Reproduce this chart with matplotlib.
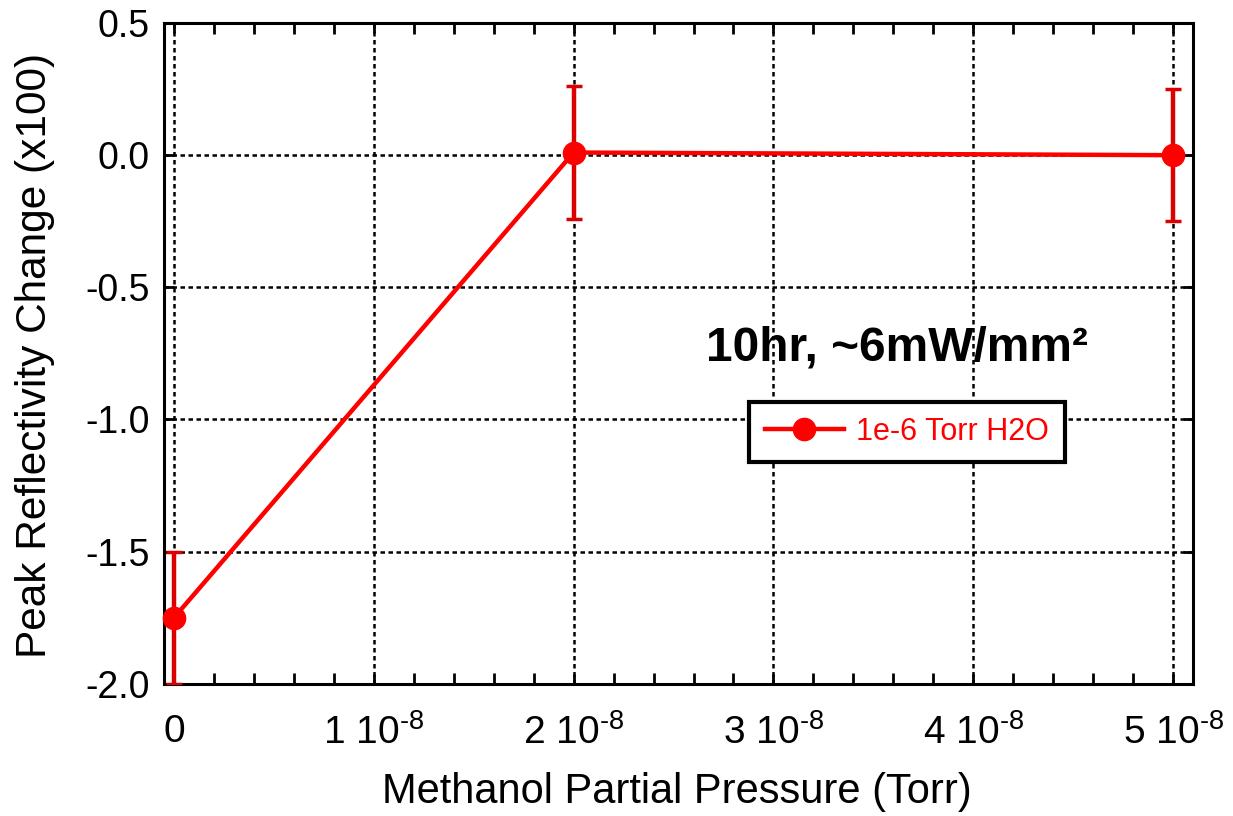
import matplotlib
matplotlib.use("Agg")
import matplotlib.pyplot as plt
from matplotlib.ticker import FixedLocator, FuncFormatter, MultipleLocator

plt.rcParams['font.family'] = ['Liberation Sans', 'DejaVu Sans']
plt.rcParams['mathtext.fontset'] = 'custom'
plt.rcParams['mathtext.rm'] = 'Liberation Sans'
plt.rcParams['mathtext.it'] = 'Liberation Sans:italic'
plt.rcParams['mathtext.bf'] = 'Liberation Sans:bold'

# methanol partial pressure (Torr) vs. peak reflectivity change (x100)
pressure = [0.0, 2e-8, 5e-8]
refl_change = [-1.75, 0.01, 0.0]
refl_err = [0.25, 0.25, 0.25]
series_label = "1e-6 Torr H2O"
x_ticks = [0, 1e-8, 2e-8, 3e-8, 4e-8, 5e-8]
y_ticks = [-2.0, -1.5, -1.0, -0.5, 0.0, 0.5]

fig = plt.figure(figsize=(12.33, 8.16), dpi=100)
ax = fig.add_axes([0.133, 0.162, 0.8346, 0.8098])

red = '#ff0000'
ax.errorbar(pressure, refl_change, yerr=refl_err, fmt='none', ecolor='#dd0000',
            elinewidth=3.2, capsize=6, capthick=2.5, zorder=3)
ax.plot(pressure, refl_change, '-o', color=red, lw=3.2, ms=16, label=series_label,
        zorder=4, clip_on=False)

ax.set_xlim(-0.05e-8, 5.1e-8)
ax.set_ylim(-2.0, 0.5)

ax.xaxis.set_major_locator(FixedLocator(x_ticks))
ax.xaxis.set_minor_locator(MultipleLocator(0.2e-8))
ax.yaxis.set_major_locator(FixedLocator(y_ticks))


def fmt_pressure(v, pos):
    n = int(round(v / 1e-8))
    if n == 0:
        return "0"
    return "%d 10$^{\\text{-8}}$" % n


ax.xaxis.set_major_formatter(FuncFormatter(fmt_pressure))
ax.yaxis.set_major_formatter(FuncFormatter(lambda v, p: "%.1f" % v))

ax.tick_params(which='both', direction='in', top=True, right=True,
               width=2, colors='black')
ax.tick_params(which='major', length=7)
ax.tick_params(which='minor', length=8)
ax.tick_params(axis='x', pad=22, labelsize=28)
ax.tick_params(axis='y', pad=10, labelsize=27)

for sp in ax.spines.values():
    sp.set_linewidth(2.2)

ax.grid(True, which='major', color='black', lw=1.8, ls=(0, (1.8, 1.4)))
ax.set_axisbelow(True)

fig.text(677 / 1233, 1 - 792 / 816, "Methanol Partial Pressure (Torr)",
         ha='center', va='center', fontsize=30)
fig.text(35 / 1233, 1 - 355 / 816, "Peak Reflectivity Change (x100)",
         ha='center', va='center', rotation=90, fontsize=30.5)

fig.text(897 / 1233, 1 - 360 / 816, "10hr, ~6mW/mm²", ha='center',
         va='baseline', fontsize=34.5, fontweight='bold')

leg = ax.legend(loc='center', bbox_to_anchor=(907 / 1233, 1 - 432 / 816),
                bbox_transform=fig.transFigure, fontsize=22, handlelength=2.6,
                fancybox=False, framealpha=1, borderpad=0.5, handletextpad=0.4)
leg.get_frame().set_edgecolor('black')
leg.get_frame().set_linewidth(3)
for t in leg.get_texts():
    t.set_color(red)

fig.savefig("out.png", dpi=100)
